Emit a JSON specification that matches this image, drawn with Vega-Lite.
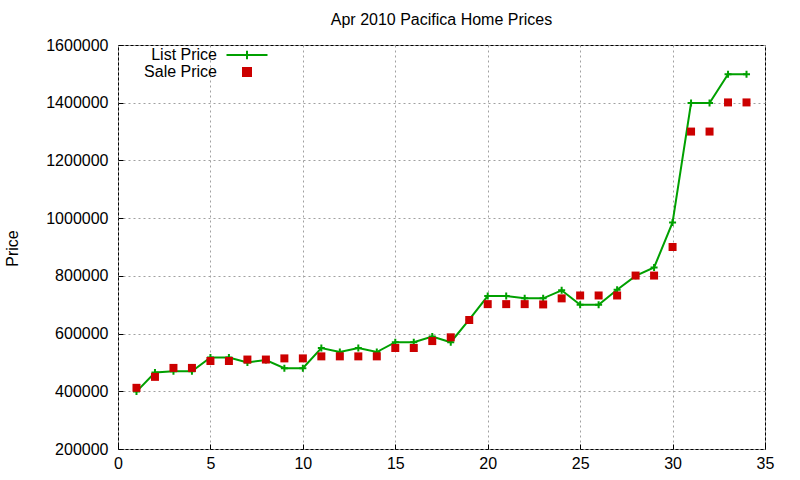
{
  "$schema": "https://vega.github.io/schema/vega-lite/v6.json",
  "width": 647,
  "height": 404,
  "autosize": "none",
  "padding": {"left": 118, "top": 45, "right": 35, "bottom": 31},
  "background": "white",
  "title": {
    "text": "Apr 2010 Pacifica Home Prices",
    "font": "Liberation Sans",
    "fontSize": 16,
    "fontWeight": "normal",
    "color": "black",
    "offset": 9
  },
  "config": {
    "view": {"stroke": "black", "strokeWidth": 1},
    "axis": {
      "labelFont": "Liberation Sans",
      "labelFontSize": 16,
      "labelColor": "black",
      "titleFont": "Liberation Sans",
      "titleFontSize": 16,
      "titleFontWeight": "normal",
      "titleColor": "black",
      "domain": false,
      "tickColor": "black",
      "tickSize": -5,
      "gridColor": "#a0a0a0",
      "gridDash": [2, 3],
      "gridOpacity": 1
    },
    "legend": {
      "labelFont": "Liberation Sans",
      "labelFontSize": 16,
      "labelColor": "black"
    }
  },
  "data": {
    "values": [
      {"n": 1, "series": "List Price", "price": 399000},
      {"n": 2, "series": "List Price", "price": 465000},
      {"n": 3, "series": "List Price", "price": 469000},
      {"n": 4, "series": "List Price", "price": 469000},
      {"n": 5, "series": "List Price", "price": 517000},
      {"n": 6, "series": "List Price", "price": 517000},
      {"n": 7, "series": "List Price", "price": 500000},
      {"n": 8, "series": "List Price", "price": 508000},
      {"n": 9, "series": "List Price", "price": 480000},
      {"n": 10, "series": "List Price", "price": 480000},
      {"n": 11, "series": "List Price", "price": 550000},
      {"n": 12, "series": "List Price", "price": 536000},
      {"n": 13, "series": "List Price", "price": 550000},
      {"n": 14, "series": "List Price", "price": 536000},
      {"n": 15, "series": "List Price", "price": 570000},
      {"n": 16, "series": "List Price", "price": 570000},
      {"n": 17, "series": "List Price", "price": 590000},
      {"n": 18, "series": "List Price", "price": 570000},
      {"n": 19, "series": "List Price", "price": 648000},
      {"n": 20, "series": "List Price", "price": 730000},
      {"n": 21, "series": "List Price", "price": 730000},
      {"n": 22, "series": "List Price", "price": 722000},
      {"n": 23, "series": "List Price", "price": 722000},
      {"n": 24, "series": "List Price", "price": 750000},
      {"n": 25, "series": "List Price", "price": 700000},
      {"n": 26, "series": "List Price", "price": 700000},
      {"n": 27, "series": "List Price", "price": 752000},
      {"n": 28, "series": "List Price", "price": 800000},
      {"n": 29, "series": "List Price", "price": 829000},
      {"n": 30, "series": "List Price", "price": 985000},
      {"n": 31, "series": "List Price", "price": 1399000},
      {"n": 32, "series": "List Price", "price": 1399000},
      {"n": 33, "series": "List Price", "price": 1499000},
      {"n": 34, "series": "List Price", "price": 1499000},
      {"n": 1, "series": "Sale Price", "price": 412000},
      {"n": 2, "series": "Sale Price", "price": 450000},
      {"n": 3, "series": "Sale Price", "price": 481000},
      {"n": 4, "series": "Sale Price", "price": 481000},
      {"n": 5, "series": "Sale Price", "price": 505000},
      {"n": 6, "series": "Sale Price", "price": 505000},
      {"n": 7, "series": "Sale Price", "price": 510000},
      {"n": 8, "series": "Sale Price", "price": 510000},
      {"n": 9, "series": "Sale Price", "price": 514000},
      {"n": 10, "series": "Sale Price", "price": 514000},
      {"n": 11, "series": "Sale Price", "price": 521000},
      {"n": 12, "series": "Sale Price", "price": 521000},
      {"n": 13, "series": "Sale Price", "price": 521000},
      {"n": 14, "series": "Sale Price", "price": 521000},
      {"n": 15, "series": "Sale Price", "price": 550000},
      {"n": 16, "series": "Sale Price", "price": 550000},
      {"n": 17, "series": "Sale Price", "price": 574000},
      {"n": 18, "series": "Sale Price", "price": 587000},
      {"n": 19, "series": "Sale Price", "price": 647000},
      {"n": 20, "series": "Sale Price", "price": 702000},
      {"n": 21, "series": "Sale Price", "price": 702000},
      {"n": 22, "series": "Sale Price", "price": 702000},
      {"n": 23, "series": "Sale Price", "price": 701000},
      {"n": 24, "series": "Sale Price", "price": 722000},
      {"n": 25, "series": "Sale Price", "price": 732000},
      {"n": 26, "series": "Sale Price", "price": 732000},
      {"n": 27, "series": "Sale Price", "price": 732000},
      {"n": 28, "series": "Sale Price", "price": 801000},
      {"n": 29, "series": "Sale Price", "price": 801000},
      {"n": 30, "series": "Sale Price", "price": 900000},
      {"n": 31, "series": "Sale Price", "price": 1300000},
      {"n": 32, "series": "Sale Price", "price": 1300000},
      {"n": 33, "series": "Sale Price", "price": 1401000},
      {"n": 34, "series": "Sale Price", "price": 1401000}
    ]
  },
  "encoding": {
    "x": {
      "field": "n",
      "type": "quantitative",
      "scale": {"domain": [0, 35], "nice": false},
      "axis": {"values": [0, 5, 10, 15, 20, 25, 30, 35], "title": null, "labelPadding": 11, "labelFlush": false, "grid": true}
    },
    "y": {
      "field": "price",
      "type": "quantitative",
      "scale": {"domain": [200000, 1600000], "nice": false, "zero": false},
      "axis": {
        "values": [200000, 400000, 600000, 800000, 1000000, 1200000, 1400000, 1600000],
        "format": "d",
        "grid": true,
        "labelFlush": false,
        "labelPadding": 15,
        "title": "Price",
        "titleAngle": -90,
        "titleX": -106,
        "titleY": 203,
        "titleAlign": "center",
        "titleBaseline": "middle"
      }
    },
    "color": {
      "field": "series",
      "type": "nominal",
      "scale": {"domain": ["List Price", "Sale Price"], "range": ["#00a000", "#cc0000"]},
      "legend": {
        "title": null,
        "orient": "none",
        "legendX": 121,
        "legendY": 2,
        "padding": 0,
        "labelAlign": "right",
        "labelOffset": -38,
        "rowPadding": -25,
        "symbolStrokeWidth": 2,
        "symbolOpacity": 1,
        "symbolType": {"expr": "datum.value === 'List Price' ? 'M-1,0H1M0,-0.21V0.21' : 'square'"},
        "symbolSize": {"expr": "datum.value === 'List Price' ? 1681 : 64"},
        "symbolFillColor": {"expr": "datum.value === 'List Price' ? 'transparent' : '#cc0000'"},
        "symbolStrokeColor": {"expr": "datum.value === 'List Price' ? '#00a000' : 'transparent'"}
      }
    }
  },
  "layer": [
    {
      "transform": [{"filter": "datum.series === 'List Price'"}],
      "mark": {"type": "line", "strokeWidth": 2}
    },
    {
      "transform": [{"filter": "datum.series === 'List Price'"}],
      "mark": {"type": "point", "shape": "M-1,0H1M0,-1V1", "size": 49, "filled": false, "strokeWidth": 2, "opacity": 1}
    },
    {
      "transform": [{"filter": "datum.series === 'Sale Price'"}],
      "mark": {"type": "point", "shape": "square", "size": 64, "filled": true, "opacity": 1}
    }
  ]
}
